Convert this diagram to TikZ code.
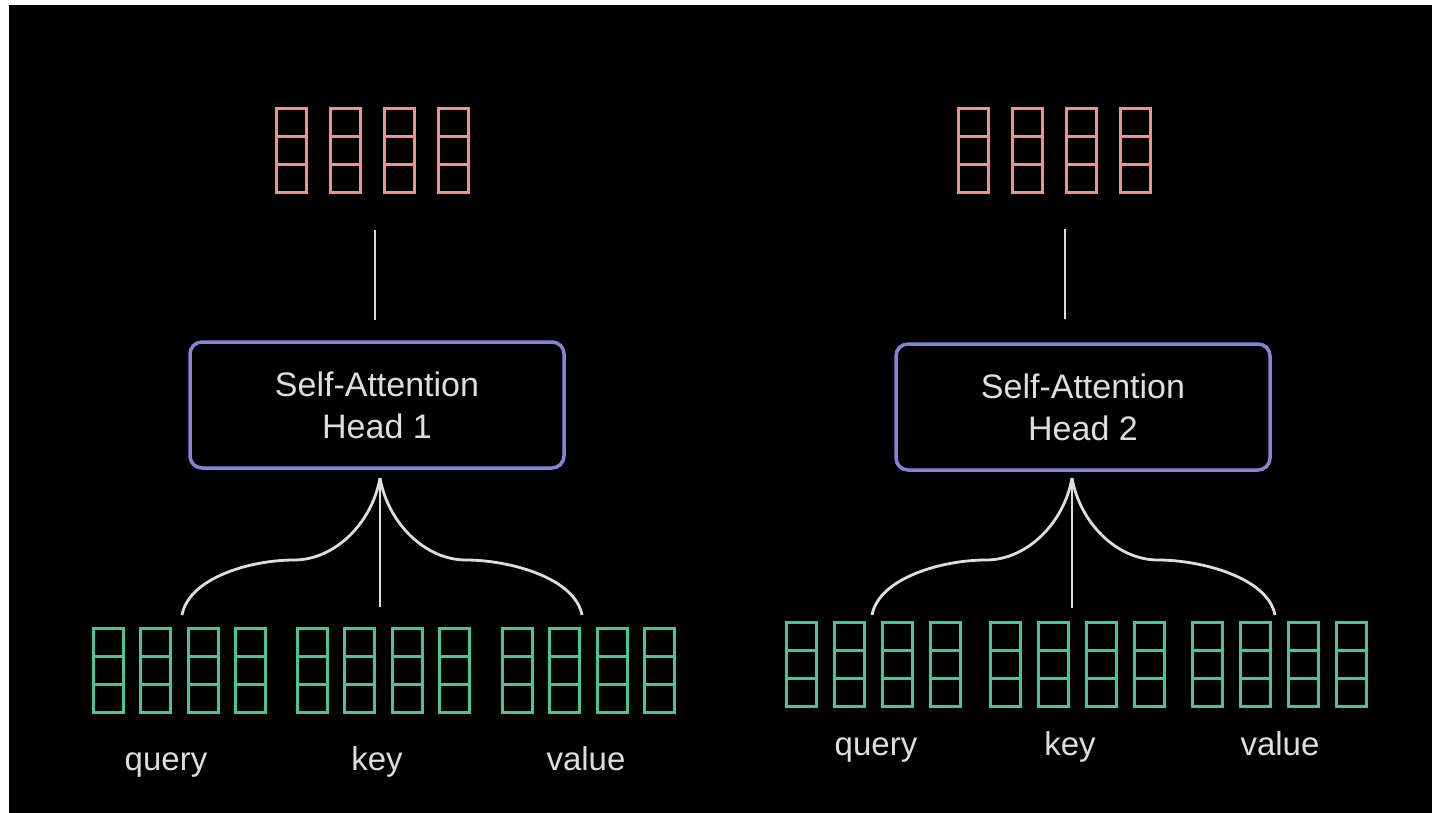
\documentclass[tikz,border=0pt]{standalone}
\usepackage{fontspec}
\setmainfont{Liberation Sans}
\usetikzlibrary{calc}
\definecolor{outred}{RGB}{238,148,134}
\definecolor{ingreen}{RGB}{70,196,156}
\definecolor{headblue}{RGB}{134,130,212}
\definecolor{wire}{RGB}{222,222,222}
\begin{document}
\begin{tikzpicture}[
  x=1pt, y=-1pt,
  vec/.pic={
    \draw (-15,-42) rectangle (15,42)
          (-15,-14) -- (15,-14)
          (-15,14) -- (15,14);
  },
  outvec/.style={color=outred, line width=3},
  invec/.style={color=ingreen, line width=3},
  headbox/.style={draw=headblue, line width=3.5, fill=black, rounded corners=12,
    minimum width=374, minimum height=126, align=center, text=wire,
    font=\fontsize{34}{42}\selectfont},
  label/.style={anchor=base, text=wire, font=\fontsize{33}{40}\selectfont},
  wire/.style={draw=wire, line width=2.8}
]
  \useasboundingbox (0,0) rectangle (1432,813);
  \fill[white] (0,0) rectangle (1432,813);
  \fill[black] (9,5) rectangle (1440,820);

  % head 1
  \foreach \x in {291,345,399,453}
    \pic[outvec] at (\x,151) {vec};
  \coordinate (out1) at (375,230);
  \coordinate (top1) at (375,320);
  \draw[wire] (out1) -- (top1);
  \node[headbox] (head1) at (377,405) {Self-Attention\\Head 1};
  \coordinate (apex1) at (380,478);
  \coordinate (q1) at (182,615);
  \coordinate (k1) at (380,607);
  \coordinate (v1) at (582,615);
  \draw[wire] (apex1) .. controls +(-8,45) and +(41,0) .. ($(apex1)+(-86,82)$)
    .. controls +(-44,0) and +(7,-37) .. (q1);
  \draw[wire] (apex1) .. controls +(8,45) and +(-41,0) .. ($(apex1)+(86,82)$)
    .. controls +(44,0) and +(-7,-37) .. (v1);
  \draw[wire] (apex1) -- (k1);
  \foreach \g in {108,312,517}
    \foreach \k in {0,...,3}
      \pic[invec] at ({\g+47.5*\k},670) {vec};
  \node[label] (query1) at (166,770) {query};
  \node[label] (key1) at (377,770) {key};
  \node[label] (value1) at (586,770) {value};

  % head 2
  \foreach \x in {973,1027,1081,1135}
    \pic[outvec] at (\x,151) {vec};
  \coordinate (out2) at (1065,229);
  \coordinate (top2) at (1065,319);
  \draw[wire] (out2) -- (top2);
  \node[headbox] (head2) at (1083,407) {Self-Attention\\Head 2};
  \coordinate (apex2) at (1072,478);
  \coordinate (q2) at (872,615);
  \coordinate (k2) at (1072,608);
  \coordinate (v2) at (1275,615);
  \draw[wire] (apex2) .. controls +(-8,45) and +(41,0) .. ($(apex2)+(-86,82)$)
    .. controls +(-44,0) and +(7,-37) .. (q2);
  \draw[wire] (apex2) .. controls +(8,45) and +(-41,0) .. ($(apex2)+(86,82)$)
    .. controls +(44,0) and +(-7,-37) .. (v2);
  \draw[wire] (apex2) -- (k2);
  \foreach \g in {801,1005,1207}
    \foreach \k in {0,...,3}
      \pic[invec] at ({\g+48*\k},664) {vec};
  \node[label] (query2) at (876,755) {query};
  \node[label] (key2) at (1070,755) {key};
  \node[label] (value2) at (1280,755) {value};
\end{tikzpicture}
\end{document}
